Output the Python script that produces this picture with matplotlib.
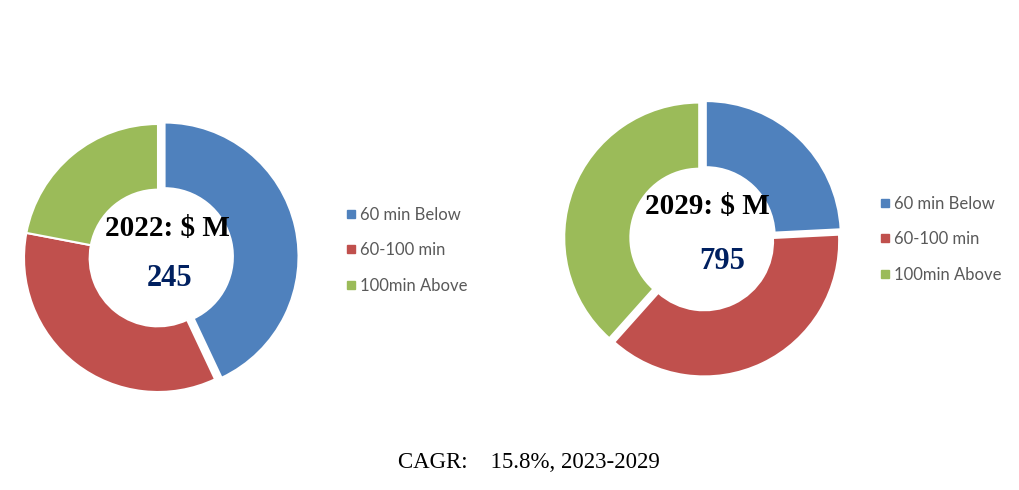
import matplotlib
matplotlib.use("Agg")
import matplotlib.pyplot as plt
from matplotlib.lines import Line2D

categories = ["60 min Below", "60-100 min", "100min Above"]
share_2022 = [43, 35, 22]
share_2029 = [24.2, 37.4, 38.4]
title_2022 = "2022: $ M"
title_2029 = "2029: $ M"
value_2022 = "245"
value_2029 = "795"
cagr_text = "CAGR:    15.8%, 2023-2029"

colors = ["#4F81BD", "#C0504D", "#9BBB59"]
navy = "#002060"
W, H = 1020, 490

fig = plt.figure(figsize=(W / 100, H / 100), dpi=100)
fig.patch.set_facecolor("white")


def donut(cx, cy, r, values, explode, title, value, title_pos, value_pos, leg_x, leg_y):
    half = 1.15 * r
    ax = fig.add_axes([(cx - half) / W, (H - cy - half) / H, 2 * half / W, 2 * half / H])
    ax.pie(values, colors=colors, startangle=90, counterclock=False,
           explode=explode, radius=1.0,
           wedgeprops=dict(width=0.49, edgecolor="white", linewidth=1.5))
    ax.set_xlim(-1.15, 1.15)
    ax.set_ylim(-1.15, 1.15)
    ax.set_aspect("equal")
    ax.axis("off")
    ax.text(title_pos[0], title_pos[1], title, ha="center", va="center",
            fontsize=21, fontweight="bold", family="Liberation Serif", color="black")
    ax.text(value_pos[0], value_pos[1], value, ha="center", va="center",
            fontsize=22, fontweight="bold", family="Liberation Serif", color=navy)
    handles = [Line2D([], [], marker="s", linestyle="none", markersize=6,
                      markerfacecolor=c, markeredgecolor=c) for c in colors]
    leg = fig.legend(handles, categories, loc="upper left",
                     bbox_to_anchor=(leg_x / W, 1 - leg_y / H), frameon=False,
                     prop=dict(family="Lato", size=12), labelspacing=1.17,
                     handletextpad=0.15, handlelength=0.8, borderaxespad=0)
    for t in leg.get_texts():
        t.set_color("#595959")


donut(158, 258, 134, share_2022, [0.05, 0, 0], title_2022, value_2022,
      (0.07, 0.22), (0.09, -0.15), 338, 200)
donut(703, 239, 135, share_2029, [0.03, 0.02, 0.03], title_2029, value_2029,
      (0.03, 0.24), (0.14, -0.17), 872, 189)

fig.text(529 / W, 1 - 462 / H, cagr_text, ha="center", va="center",
         fontsize=16.5, family="Liberation Serif", color="black")

fig.savefig("out.png", dpi=100, facecolor="white")
